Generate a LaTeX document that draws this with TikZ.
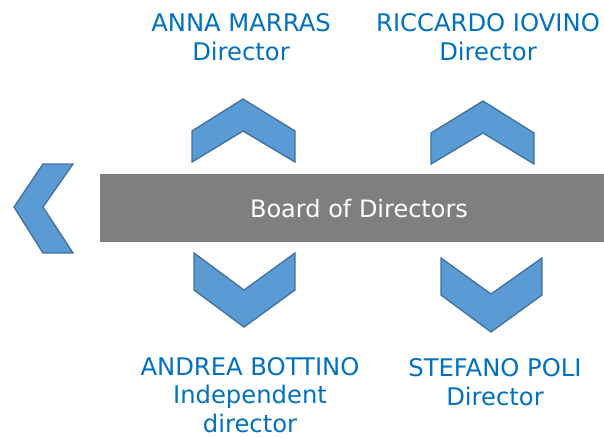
\documentclass[tikz,border=0pt]{standalone}
\usepackage{fontspec}
\setmainfont{DejaVu Sans}
\usetikzlibrary{positioning}

\definecolor{chevfill}{HTML}{5B9BD5}
\definecolor{chevline}{HTML}{41719C}
\definecolor{nametext}{HTML}{0070C0}
\definecolor{boardgray}{HTML}{7F7F7F}

\tikzset{
  chevron/.style={fill=chevfill, draw=chevline, line width=1pt, line join=miter},
  member/.style={text=nametext, align=center, inner sep=0pt, anchor=base,
    font=\fontsize{18.2}{21.3}\selectfont},
  board/.style={fill=boardgray, text=white, inner sep=0pt,
    font=\fontsize{18}{21.3}\selectfont}
}

\begin{document}
\begin{tikzpicture}[x=0.75pt, y=-0.75pt]
                  \useasboundingbox (0, 0) rectangle (604, 437);

                  % the board itself
                  \fill[boardgray] (100, 174) rectangle (604, 242);
                  \node[board] (board) at (359, 209) {Board of Directors};

                  % chevron pointing left
                  \draw[chevron] (14, 207) -- (43, 164) -- (73, 164) -- (43, 207) -- (73, 253) -- (43, 253) -- cycle;

                  % chevrons pointing up
                  \begin{scope}[shift={(243, 99)}]
                      \draw[chevron] (-51, 32) -- (0, 0) -- (52, 32) -- (52, 63) -- (0, 32) -- (-51, 63) -- cycle;
                  \end{scope}
                  \begin{scope}[shift={(483, 101)}]
                      \draw[chevron] (-52, 32) -- (0, 0) -- (51, 32) -- (51, 63) -- (0, 32) -- (-52, 63) -- cycle;
                  \end{scope}

                  % chevrons pointing down
                  \begin{scope}[shift={(244, 290)}]
                      \draw[chevron] (-50, -37) -- (0, 0) -- (51, -37) -- (51, 0) -- (0, 37) -- (-50, 0) -- cycle;
                  \end{scope}
                  \begin{scope}[shift={(491, 294)}]
                      \draw[chevron] (-50, -36) -- (0, 0) -- (51, -36) -- (51, 1) -- (0, 38) -- (-50, 1) -- cycle;
                  \end{scope}

                  % names (base = last line)
                  \node[member] (marras) at (241, 60) {ANNA MARRAS\\Director};
                  \node[member] (iovino) at (488, 60) {RICCARDO IOVINO\\Director};
                  \node[member] (bottino) at (250, 432) {ANDREA BOTTINO\\Independent\\director};
                  \node[member] (poli) at (495, 405) {STEFANO POLI\\Director};
              \end{tikzpicture}
\end{document}
